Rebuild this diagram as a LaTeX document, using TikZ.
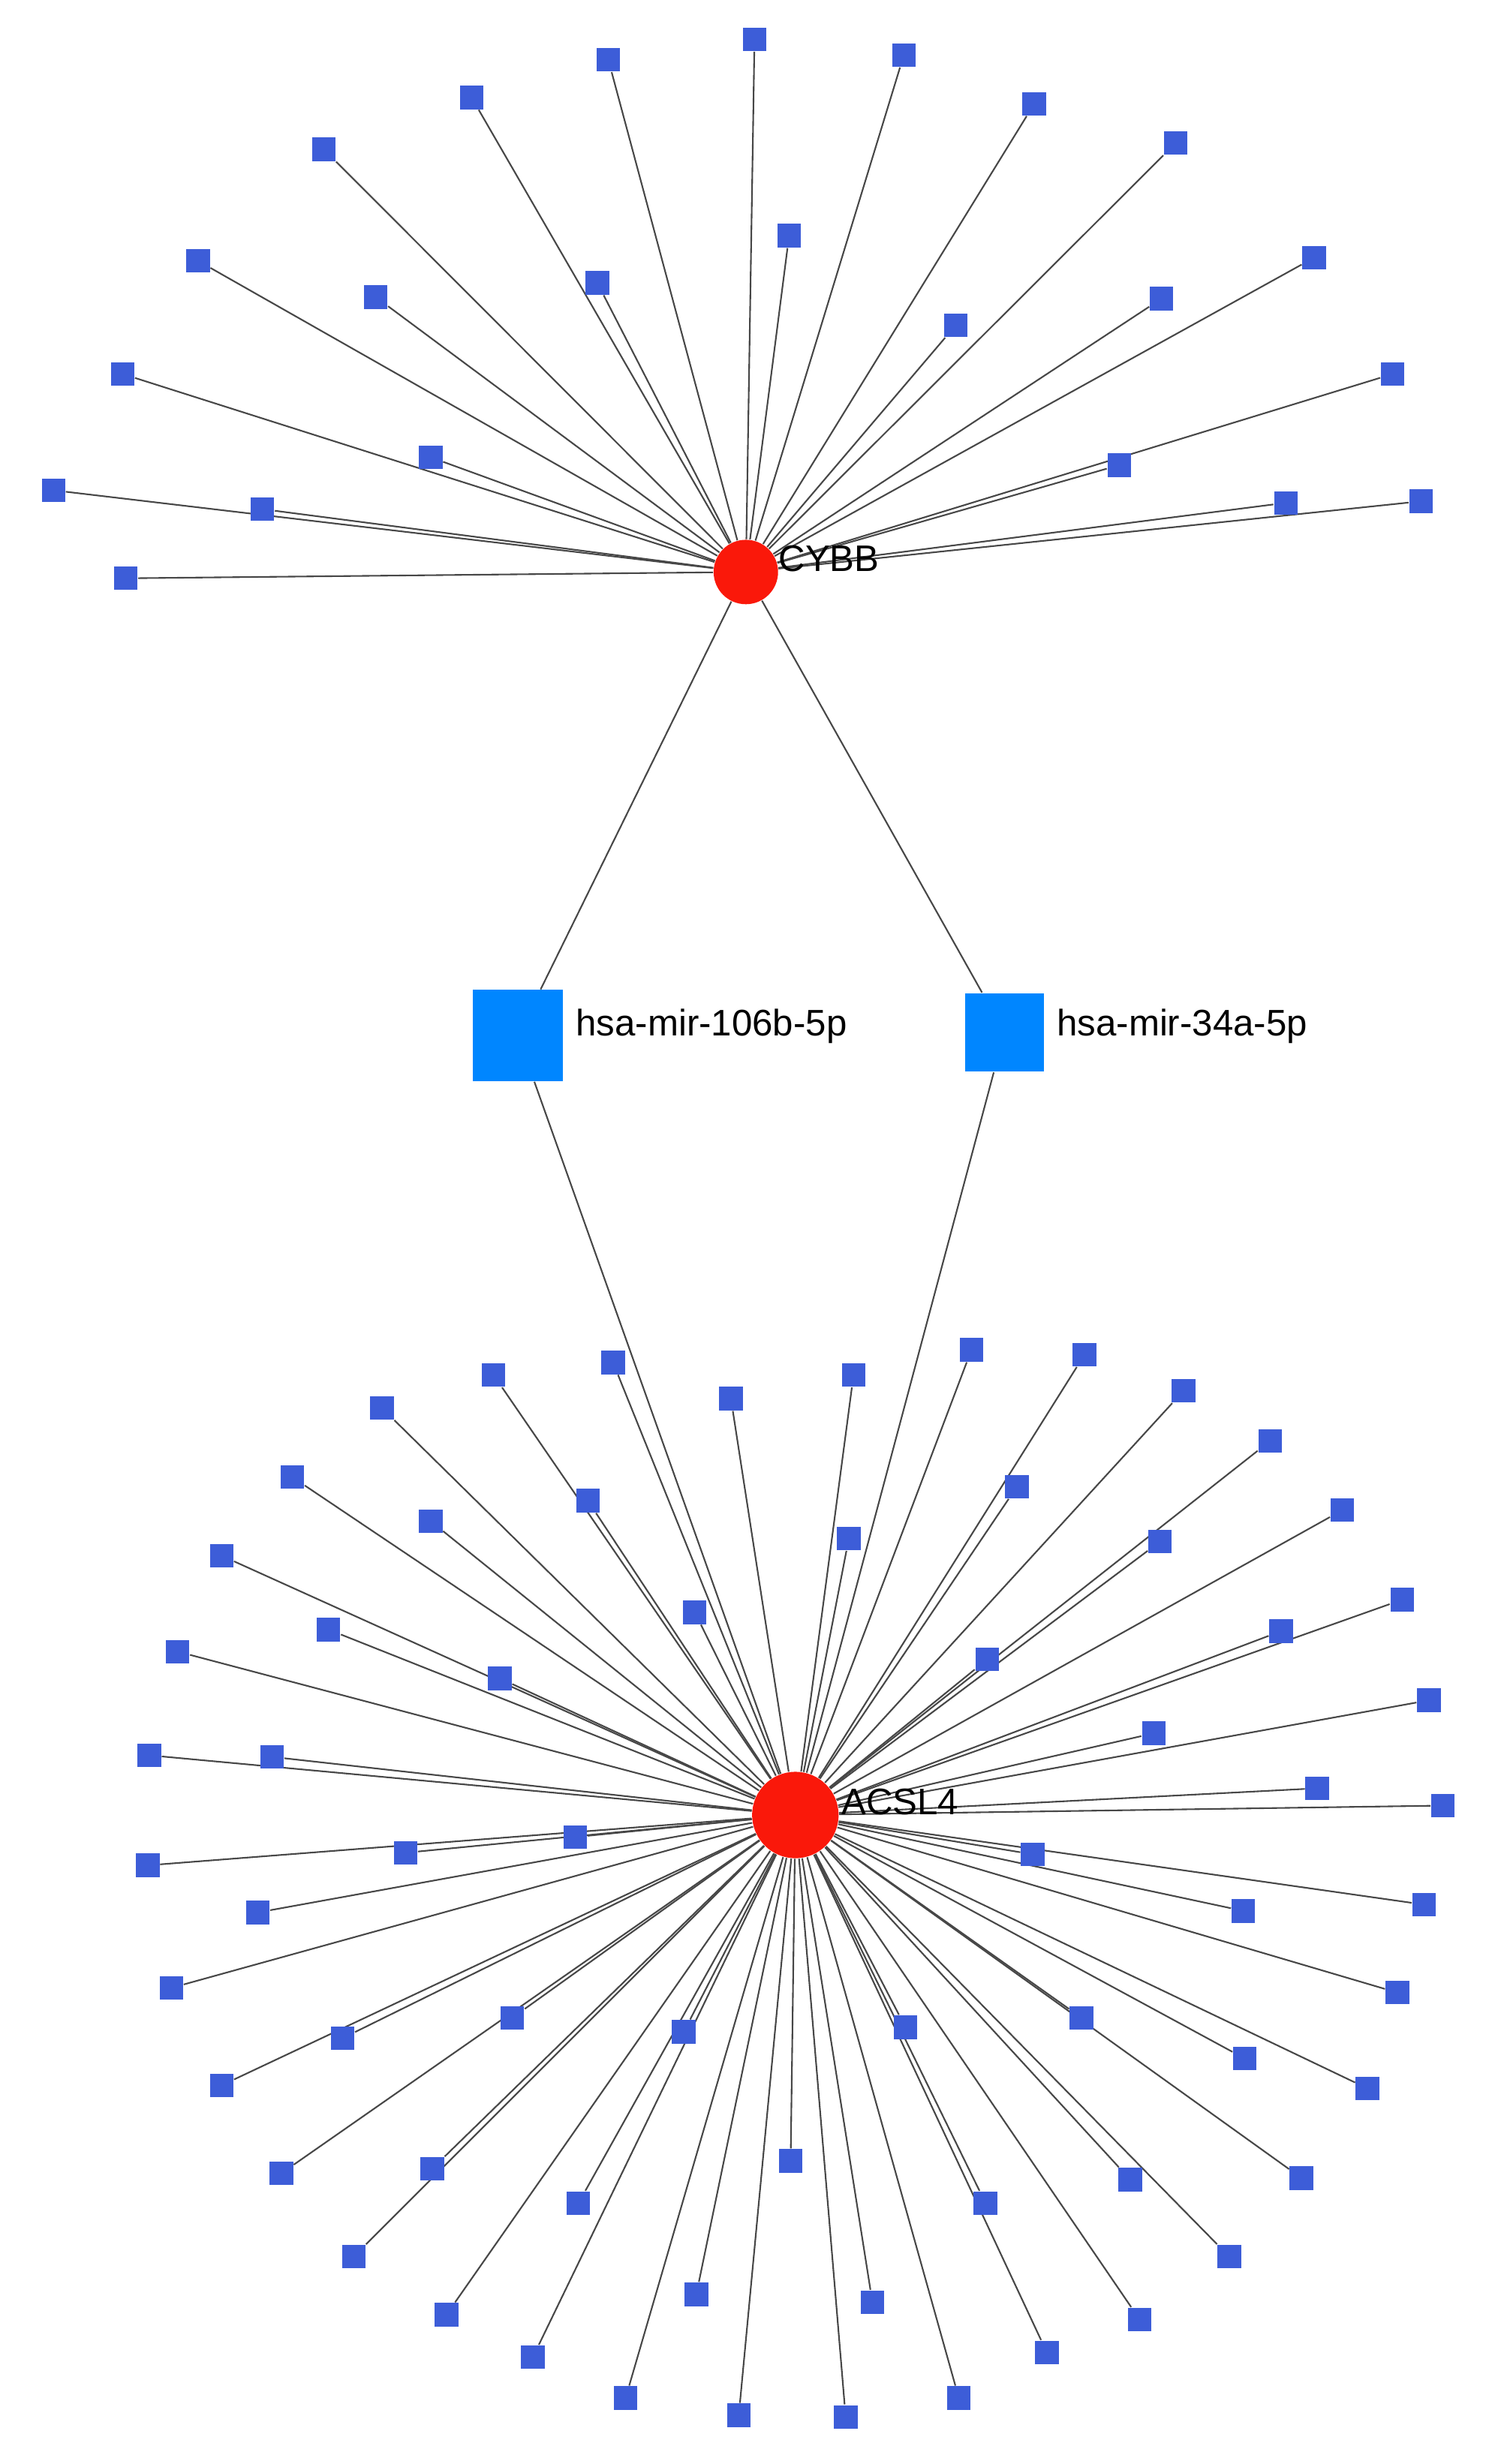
\documentclass[tikz,border=0pt]{standalone}
\usepackage{fontspec}
\setmainfont{Liberation Sans}
\usetikzlibrary{backgrounds}
\definecolor{sat}{RGB}{61,93,216}
\definecolor{mir}{RGB}{0,134,255}
\definecolor{hub}{RGB}{250,24,10}
\begin{document}
\begin{tikzpicture}[x=0.5pt,y=-0.5pt,
  satbox/.style={rectangle,fill=sat,minimum width=7.5pt,minimum height=7.5pt,inner sep=0pt},
  mirbox/.style={rectangle,fill=mir,inner sep=0pt},
  hubnode/.style={circle,fill=hub,inner sep=0pt},
  lab/.style={inner sep=0pt,font=\fontsize{11.75}{14}\selectfont,text=black},
  edge/.style={draw=black!72,line width=0.5pt}]
\useasboundingbox (0,0) rectangle (947,1568);
% hubs
\node[hubnode,minimum size=20.5pt] (cybb) at (474.5,364) {};
\node[hubnode,minimum size=27.5pt] (acsl) at (506,1155) {};
\node[mirbox,minimum width=28.5pt,minimum height=29pt] (m106) at (329.5,659) {};
\node[mirbox,minimum width=25pt,minimum height=25pt] (m34) at (639,657) {};
% labels
\node[lab,anchor=west] (lcybb) at (495,355.5) {CYBB};
\node[lab,anchor=west] (lacsl) at (535,1146.5) {ACSL4};
\node[lab,anchor=base west] (l106) at (366,659) {hsa-mir-106b-5p};
\node[lab,anchor=base west] (l34) at (672,659) {hsa-mir-34a-5p};
% mir edges
\begin{pgfonlayer}{background}
\draw[edge] (cybb) -- (m106);
\draw[edge] (cybb) -- (m34);
\draw[edge] (m106) -- (acsl);
\draw[edge] (m34) -- (acsl);
\end{pgfonlayer}
% CYBB satellites
\foreach \px/\py [count=\i] in {480/25, 575/35, 387/38, 658/66, 300/62, 748/91, 206/95, 502/150,
  126/166, 836/164, 380/180, 239/189, 739/190, 608/207, 78/238, 886/238, 274/291, 712/296,
  34/312, 167/324, 818/320, 904/319, 80/368}{
  \node[satbox] (c\i) at (\px,\py) {};
  \begin{pgfonlayer}{background}\draw[edge] (cybb) -- (c\i);\end{pgfonlayer}
}
% ACSL4 satellites
\foreach \px/\py [count=\i] in {390/867, 465/890, 543/875, 618/859, 690/862, 314/875, 243/896, 753/885,
  186/940, 374/955, 274/968, 647/946, 808/917, 540/979, 738/981, 141/990,
  854/961, 442/1026, 209/1037, 113/1051, 815/1038, 892/1018, 628/1056, 318/1068,
  909/1082, 734/1103, 95/1117, 173/1118, 838/1138, 918/1149, 366/1169, 258/1179,
  657/1180, 94/1187, 164/1217, 791/1216, 906/1212, 109/1265, 889/1268, 326/1284,
  688/1284, 218/1297, 435/1293, 576/1290, 792/1310, 141/1327, 870/1329, 179/1383,
  503/1375, 275/1380, 719/1387, 828/1386, 368/1402, 627/1402, 225/1436, 782/1436,
  443/1460, 555/1465, 284/1473, 725/1476, 339/1500, 666/1497, 398/1526, 470/1537,
  538/1538, 610/1526}{
  \node[satbox] (a\i) at (\px,\py) {};
  \begin{pgfonlayer}{background}\draw[edge] (acsl) -- (a\i);\end{pgfonlayer}
}
\end{tikzpicture}
\end{document}
